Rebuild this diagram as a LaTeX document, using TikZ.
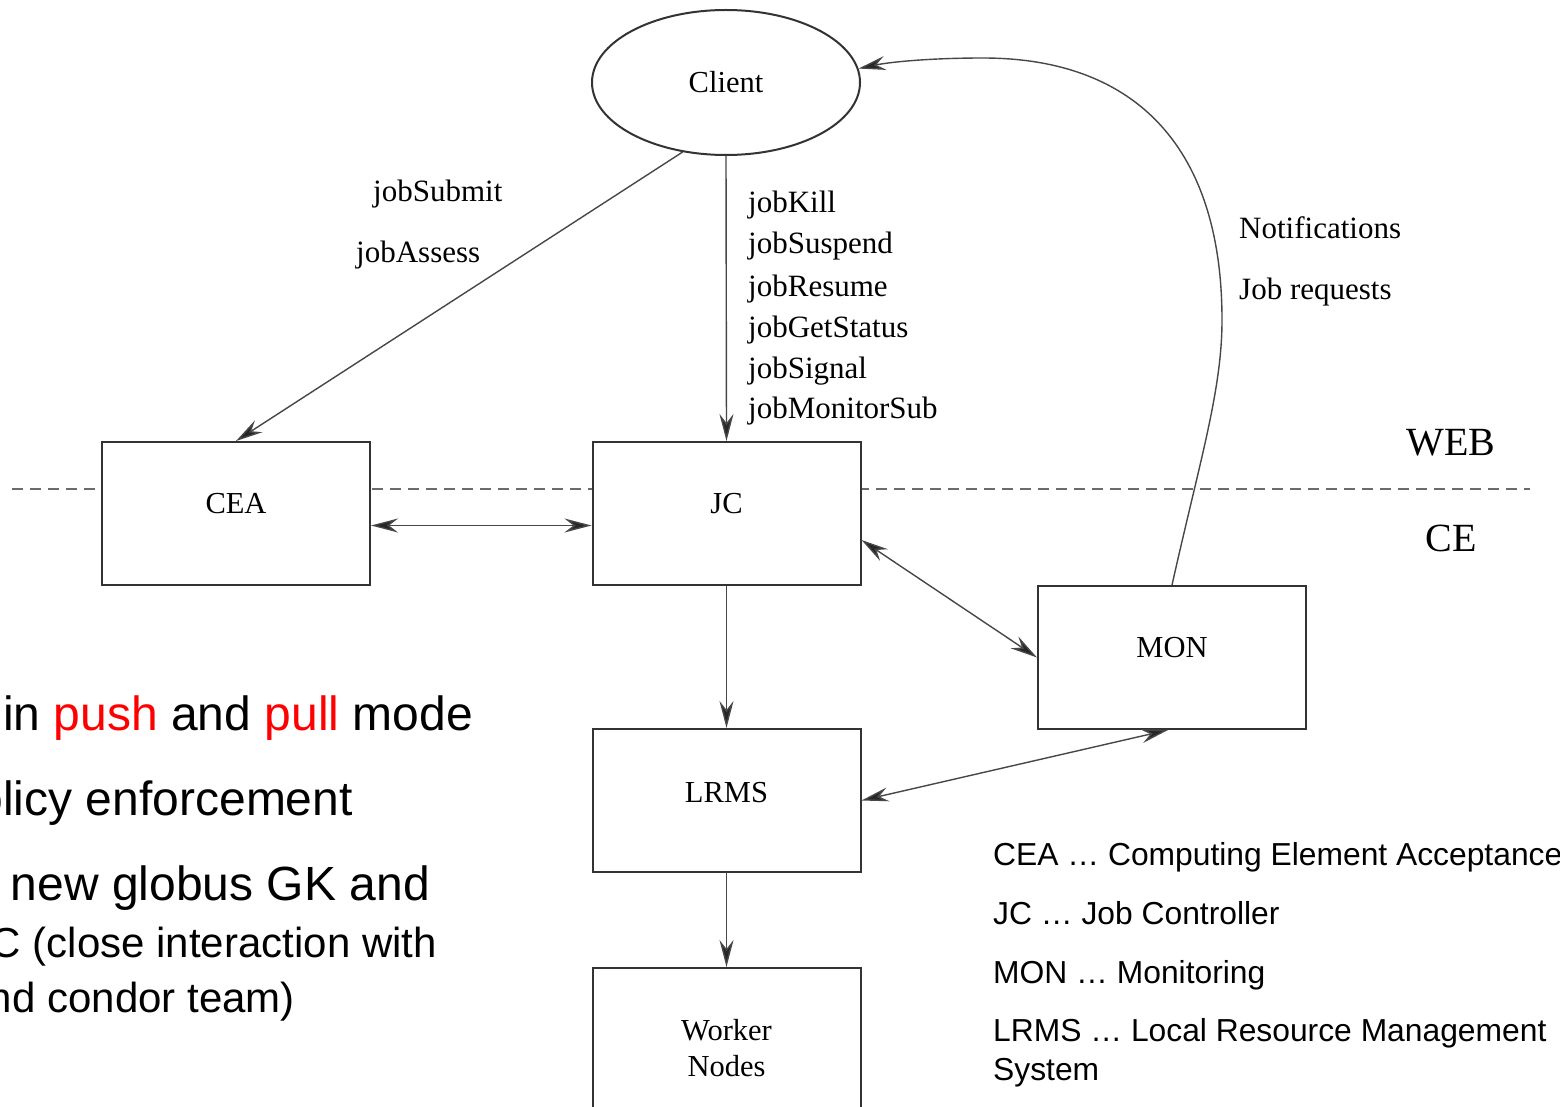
\documentclass[tikz,border=0pt]{standalone}
\usepackage{fontspec}
\setmainfont{Liberation Serif}
\newfontfamily\legendfont{Liberation Sans}
\usetikzlibrary{arrows.meta,shapes.geometric}
\definecolor{linegray}{gray}{0.28}
\definecolor{boxgray}{gray}{0.2}
\definecolor{sepgray}{gray}{0.42}
\definecolor{pushred}{RGB}{255,0,0}
\begin{document}
\begin{tikzpicture}[x=1pt,y=-1pt,
  boxnode/.style={draw=boxgray, line width=2pt, fill=white, rectangle,
    minimum width=268pt, inner xsep=0pt, inner ysep=0pt,
    font=\fontsize{30.5}{36}\selectfont},
  clientnode/.style={ellipse, draw=boxgray, line width=2pt, fill=white,
    minimum width=268pt, minimum height=145pt, inner sep=0pt,
    font=\fontsize{30.5}{36}\selectfont},
  lbl/.style={inner sep=0pt, font=\fontsize{31}{36}\selectfont},
  biglbl/.style={inner sep=0pt, font=\fontsize{40}{48}\selectfont},
  slide/.style={inner sep=0pt, font=\legendfont\fontsize{48}{58}\selectfont},
  slidesm/.style={inner sep=0pt, font=\legendfont\fontsize{42}{50}\selectfont},
  legend/.style={inner sep=0pt, font=\legendfont\fontsize{31.8}{38}\selectfont},
  conn/.style={draw=linegray, line width=1.4pt},
  arr/.style={-{Stealth[length=27pt,width=14pt,inset=9pt,fill=black!85]}},
  darr/.style={{Stealth[length=27pt,width=14pt,inset=9pt,fill=black!85]}-{Stealth[length=27pt,width=14pt,inset=9pt,fill=black!85]}},
  sepline/.style={draw=sepgray, line width=1.4pt, dash pattern=on 11pt off 7pt}
]
\useasboundingbox (0,0) rectangle (1560,1107);
\clip (0,0) rectangle (1560,1107);
\fill[white] (0,0) rectangle (1560,1107);

% WEB / CE separator
\coordinate (sepL) at (12,489);
\coordinate (sepR) at (1530,489);
\draw[sepline] (sepL) -- (sepR);

% nodes
\node[clientnode] (client) at (726,82.5) {Client};
\node[boxnode, text height=71pt, text depth=72pt, anchor=base] (cea) at (236,513) {CEA};
\node[boxnode, text height=71pt, text depth=72pt, anchor=base] (jc) at (726.5,513) {JC};
\node[boxnode, text height=71pt, text depth=72pt, anchor=base] (mon) at (1172,657) {MON};
\node[boxnode, text height=73pt, text depth=70pt, anchor=base] (lrms) at (726.5,802) {LRMS};
\node[boxnode, align=center, minimum height=160pt] (wn) at (726.5,1048) {Worker\\Nodes};

% connectors
\draw[conn, arr] (client.238) -- (cea.north);
\draw[conn, arr] (client.south) -- (jc.north);
\draw[conn, darr] ([yshift=-12pt]cea.east) -- ([yshift=-12pt]jc.west);
\draw[conn, darr] ([yshift=-26.5pt]jc.east) -- (mon.west);
\draw[conn, arr] (jc.south) -- (lrms.north);
\draw[conn, arr] (lrms.south) -- (wn.north);
\draw[conn, darr] (lrms.east) -- ([xshift=-4pt]mon.south);
\draw[conn, arr] (mon.north) .. controls (1200,460) and (1222,390) .. (1222,320)
  .. controls (1222,150) and (1138,58) .. (983,58)
  .. controls (930,58) and (890,62) .. (client.6);

% call labels
\node[lbl, anchor=base west] (submit) at (373,202) {jobSubmit};
\node[lbl, anchor=base west] (assess) at (356,263) {jobAssess};
\node[lbl, anchor=base west] (kill) at (748,213) {jobKill};
\node[lbl, anchor=base west] (suspend) at (748,254) {jobSuspend};
\node[lbl, anchor=base west] (resume) at (748,296) {jobResume};
\node[lbl, anchor=base west] (getstatus) at (748,337) {jobGetStatus};
\node[lbl, anchor=base west] (signal) at (748,378) {jobSignal};
\node[lbl, anchor=base west] (monsub) at (748,418) {jobMonitorSub};
\node[lbl, anchor=base west] (notif) at (1239,239) {Notifications};
\node[lbl, anchor=base west] (jobreq) at (1239,299) {Job requests};
\node[biglbl, anchor=base] (web) at (1451,455) {WEB};
\node[biglbl, anchor=base] (ce) at (1451,551) {CE};

% slide text (left, cut by the frame)
\node[slide, anchor=base east] (b1) at (473,730) {in \textcolor{pushred}{push} and \textcolor{pushred}{pull} mode};
\node[slide, anchor=base east] (b2) at (353,815) {olicy enforcement};
\node[slide, anchor=base east] (b3) at (430,900) {new globus GK and};
\node[slidesm, anchor=base east] (b4) at (437,957) {C (close interaction with};
\node[slidesm, anchor=base east] (b5) at (295,1012) {nd condor team)};

% legend
\node[legend, anchor=base west] (lg1) at (993,865) {CEA … Computing Element Acceptance};
\node[legend, anchor=base west] (lg2) at (993,924) {JC … Job Controller};
\node[legend, anchor=base west] (lg3) at (993,983) {MON … Monitoring};
\node[legend, anchor=base west] (lg4) at (993,1041.5) {LRMS … Local Resource Management};
\node[legend, anchor=base west] (lg5) at (993,1080) {System};
\end{tikzpicture}
\end{document}
